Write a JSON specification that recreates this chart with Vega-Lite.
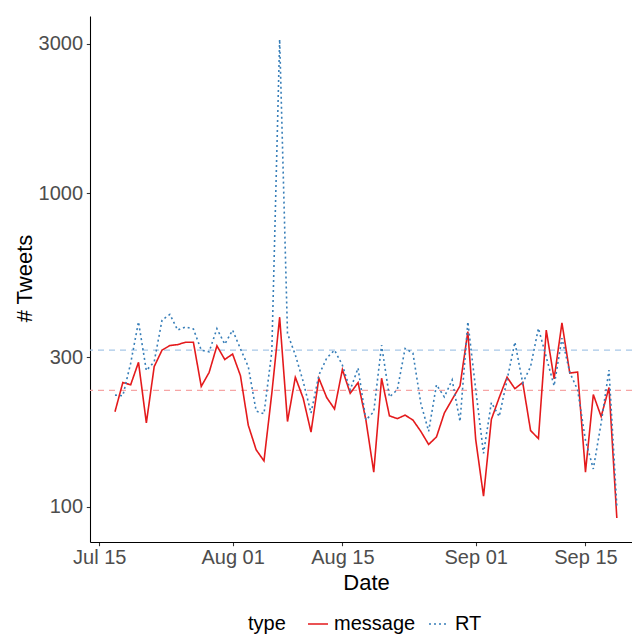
{
  "$schema": "https://vega.github.io/schema/vega-lite/v6.json",
  "autosize": {"type": "none"},
  "width": 542,
  "height": 526,
  "padding": {"left": 90, "top": 16, "right": 0, "bottom": 92},
  "background": "white",
  "config": {
    "font": "Liberation Sans",
    "view": {"stroke": null},
    "axis": {
      "grid": false,
      "domainColor": "#000000",
      "domainWidth": 1.07,
      "tickColor": "#333333",
      "tickWidth": 1.07,
      "tickSize": 3.7,
      "labelFontSize": 20,
      "labelColor": "#4D4D4D",
      "labelFont": "Liberation Sans",
      "titleFont": "Liberation Sans",
      "titleFontSize": 22,
      "titleFontWeight": "normal",
      "titleColor": "#000000"
    },
    "legend": {
      "orient": "none",
      "legendX": 158,
      "legendY": 597,
      "direction": "horizontal",
      "titleOrient": "left",
      "titleFont": "Liberation Sans",
      "labelFont": "Liberation Sans",
      "titleFontSize": 20,
      "titleFontWeight": "normal",
      "titleColor": "#000000",
      "labelFontSize": 20,
      "labelColor": "#000000",
      "symbolType": "stroke",
      "symbolSize": 400,
      "symbolStrokeWidth": 1.6,
      "labelOffset": 5,
      "columnPadding": 9,
      "titlePadding": 21,
      "padding": 0
    }
  },
  "datasets": {
    "means": [
      {"type": "message", "mean": 235},
      {"type": "RT", "mean": 316}
    ],
    "tweets": [
      {"date": "2014-07-17", "type": "message", "tweets": 201},
      {"date": "2014-07-18", "type": "message", "tweets": 249},
      {"date": "2014-07-19", "type": "message", "tweets": 245},
      {"date": "2014-07-20", "type": "message", "tweets": 289},
      {"date": "2014-07-21", "type": "message", "tweets": 185},
      {"date": "2014-07-22", "type": "message", "tweets": 280},
      {"date": "2014-07-23", "type": "message", "tweets": 316},
      {"date": "2014-07-24", "type": "message", "tweets": 327},
      {"date": "2014-07-25", "type": "message", "tweets": 329},
      {"date": "2014-07-26", "type": "message", "tweets": 335},
      {"date": "2014-07-27", "type": "message", "tweets": 335},
      {"date": "2014-07-28", "type": "message", "tweets": 242},
      {"date": "2014-07-29", "type": "message", "tweets": 268},
      {"date": "2014-07-30", "type": "message", "tweets": 326},
      {"date": "2014-07-31", "type": "message", "tweets": 295},
      {"date": "2014-08-01", "type": "message", "tweets": 307},
      {"date": "2014-08-02", "type": "message", "tweets": 262},
      {"date": "2014-08-03", "type": "message", "tweets": 182},
      {"date": "2014-08-04", "type": "message", "tweets": 152},
      {"date": "2014-08-05", "type": "message", "tweets": 140},
      {"date": "2014-08-06", "type": "message", "tweets": 230},
      {"date": "2014-08-07", "type": "message", "tweets": 402},
      {"date": "2014-08-08", "type": "message", "tweets": 187},
      {"date": "2014-08-09", "type": "message", "tweets": 259},
      {"date": "2014-08-10", "type": "message", "tweets": 222},
      {"date": "2014-08-11", "type": "message", "tweets": 173},
      {"date": "2014-08-12", "type": "message", "tweets": 257},
      {"date": "2014-08-13", "type": "message", "tweets": 223},
      {"date": "2014-08-14", "type": "message", "tweets": 205},
      {"date": "2014-08-15", "type": "message", "tweets": 274},
      {"date": "2014-08-16", "type": "message", "tweets": 230},
      {"date": "2014-08-17", "type": "message", "tweets": 249},
      {"date": "2014-08-18", "type": "message", "tweets": 189},
      {"date": "2014-08-19", "type": "message", "tweets": 129},
      {"date": "2014-08-20", "type": "message", "tweets": 257},
      {"date": "2014-08-21", "type": "message", "tweets": 195},
      {"date": "2014-08-22", "type": "message", "tweets": 191},
      {"date": "2014-08-23", "type": "message", "tweets": 196},
      {"date": "2014-08-24", "type": "message", "tweets": 189},
      {"date": "2014-08-25", "type": "message", "tweets": 174},
      {"date": "2014-08-26", "type": "message", "tweets": 158},
      {"date": "2014-08-27", "type": "message", "tweets": 167},
      {"date": "2014-08-28", "type": "message", "tweets": 199},
      {"date": "2014-08-29", "type": "message", "tweets": 220},
      {"date": "2014-08-30", "type": "message", "tweets": 243},
      {"date": "2014-08-31", "type": "message", "tweets": 362},
      {"date": "2014-09-01", "type": "message", "tweets": 164},
      {"date": "2014-09-02", "type": "message", "tweets": 108},
      {"date": "2014-09-03", "type": "message", "tweets": 190},
      {"date": "2014-09-04", "type": "message", "tweets": 223},
      {"date": "2014-09-05", "type": "message", "tweets": 259},
      {"date": "2014-09-06", "type": "message", "tweets": 238},
      {"date": "2014-09-07", "type": "message", "tweets": 249},
      {"date": "2014-09-08", "type": "message", "tweets": 175},
      {"date": "2014-09-09", "type": "message", "tweets": 165},
      {"date": "2014-09-10", "type": "message", "tweets": 366},
      {"date": "2014-09-11", "type": "message", "tweets": 256},
      {"date": "2014-09-12", "type": "message", "tweets": 386},
      {"date": "2014-09-13", "type": "message", "tweets": 267},
      {"date": "2014-09-14", "type": "message", "tweets": 269},
      {"date": "2014-09-15", "type": "message", "tweets": 129},
      {"date": "2014-09-16", "type": "message", "tweets": 228},
      {"date": "2014-09-17", "type": "message", "tweets": 194},
      {"date": "2014-09-18", "type": "message", "tweets": 240},
      {"date": "2014-09-19", "type": "message", "tweets": 92},
      {"date": "2014-07-17", "type": "RT", "tweets": 227},
      {"date": "2014-07-18", "type": "RT", "tweets": 226},
      {"date": "2014-07-19", "type": "RT", "tweets": 287},
      {"date": "2014-07-20", "type": "RT", "tweets": 389},
      {"date": "2014-07-21", "type": "RT", "tweets": 272},
      {"date": "2014-07-22", "type": "RT", "tweets": 290},
      {"date": "2014-07-23", "type": "RT", "tweets": 394},
      {"date": "2014-07-24", "type": "RT", "tweets": 411},
      {"date": "2014-07-25", "type": "RT", "tweets": 366},
      {"date": "2014-07-26", "type": "RT", "tweets": 375},
      {"date": "2014-07-27", "type": "RT", "tweets": 369},
      {"date": "2014-07-28", "type": "RT", "tweets": 316},
      {"date": "2014-07-29", "type": "RT", "tweets": 312},
      {"date": "2014-07-30", "type": "RT", "tweets": 370},
      {"date": "2014-07-31", "type": "RT", "tweets": 330},
      {"date": "2014-08-01", "type": "RT", "tweets": 366},
      {"date": "2014-08-02", "type": "RT", "tweets": 319},
      {"date": "2014-08-03", "type": "RT", "tweets": 280},
      {"date": "2014-08-04", "type": "RT", "tweets": 202},
      {"date": "2014-08-05", "type": "RT", "tweets": 198},
      {"date": "2014-08-06", "type": "RT", "tweets": 312},
      {"date": "2014-08-07", "type": "RT", "tweets": 3100},
      {"date": "2014-08-08", "type": "RT", "tweets": 357},
      {"date": "2014-08-09", "type": "RT", "tweets": 305},
      {"date": "2014-08-10", "type": "RT", "tweets": 251},
      {"date": "2014-08-11", "type": "RT", "tweets": 199},
      {"date": "2014-08-12", "type": "RT", "tweets": 263},
      {"date": "2014-08-13", "type": "RT", "tweets": 298},
      {"date": "2014-08-14", "type": "RT", "tweets": 316},
      {"date": "2014-08-15", "type": "RT", "tweets": 283},
      {"date": "2014-08-16", "type": "RT", "tweets": 236},
      {"date": "2014-08-17", "type": "RT", "tweets": 277},
      {"date": "2014-08-18", "type": "RT", "tweets": 189},
      {"date": "2014-08-19", "type": "RT", "tweets": 201},
      {"date": "2014-08-20", "type": "RT", "tweets": 328},
      {"date": "2014-08-21", "type": "RT", "tweets": 224},
      {"date": "2014-08-22", "type": "RT", "tweets": 236},
      {"date": "2014-08-23", "type": "RT", "tweets": 320},
      {"date": "2014-08-24", "type": "RT", "tweets": 309},
      {"date": "2014-08-25", "type": "RT", "tweets": 214},
      {"date": "2014-08-26", "type": "RT", "tweets": 174},
      {"date": "2014-08-27", "type": "RT", "tweets": 245},
      {"date": "2014-08-28", "type": "RT", "tweets": 224},
      {"date": "2014-08-29", "type": "RT", "tweets": 254},
      {"date": "2014-08-30", "type": "RT", "tweets": 187},
      {"date": "2014-08-31", "type": "RT", "tweets": 389},
      {"date": "2014-09-01", "type": "RT", "tweets": 237},
      {"date": "2014-09-02", "type": "RT", "tweets": 148},
      {"date": "2014-09-03", "type": "RT", "tweets": 215},
      {"date": "2014-09-04", "type": "RT", "tweets": 194},
      {"date": "2014-09-05", "type": "RT", "tweets": 254},
      {"date": "2014-09-06", "type": "RT", "tweets": 335},
      {"date": "2014-09-07", "type": "RT", "tweets": 248},
      {"date": "2014-09-08", "type": "RT", "tweets": 280},
      {"date": "2014-09-09", "type": "RT", "tweets": 371},
      {"date": "2014-09-10", "type": "RT", "tweets": 300},
      {"date": "2014-09-11", "type": "RT", "tweets": 243},
      {"date": "2014-09-12", "type": "RT", "tweets": 345},
      {"date": "2014-09-13", "type": "RT", "tweets": 268},
      {"date": "2014-09-14", "type": "RT", "tweets": 236},
      {"date": "2014-09-15", "type": "RT", "tweets": 163},
      {"date": "2014-09-16", "type": "RT", "tweets": 132},
      {"date": "2014-09-17", "type": "RT", "tweets": 185},
      {"date": "2014-09-18", "type": "RT", "tweets": 273},
      {"date": "2014-09-19", "type": "RT", "tweets": 100}
    ]
  },
  "layer": [
    {
      "data": {"name": "means"},
      "transform": [{"filter": "datum.type === 'message'"}],
      "mark": {"type": "rule", "color": "#F6A5A5", "strokeDash": [6, 5], "strokeWidth": 1.2},
      "encoding": {
        "y": {"field": "mean", "type": "quantitative", "title": "# Tweets", "scale": {"type": "log", "domain": [77.17, 3680], "nice": false}}
      }
    },
    {
      "data": {"name": "means"},
      "transform": [{"filter": "datum.type === 'RT'"}],
      "mark": {"type": "rule", "color": "#A8C8E8", "strokeDash": [6, 5], "strokeWidth": 1.2},
      "encoding": {
        "y": {"field": "mean", "type": "quantitative", "title": "# Tweets", "scale": {"type": "log", "domain": [77.17, 3680], "nice": false}}
      }
    },
    {
      "data": {"name": "tweets"},
      "mark": {"type": "line", "strokeWidth": 1.6},
      "encoding": {
        "x": {
          "field": "date",
          "type": "temporal",
          "scale": {"type": "utc", "domain": [1405279929600, 1411251897600], "nice": false},
          "axis": {
            "values": [1405382400000, 1406851200000, 1408060800000, 1409529600000, 1410739200000],
            "labelExpr": "utcFormat(datum.value, '%b %d')",
            "title": "Date",
            "titleX": 276,
            "titleY": 47.3,
            "titleBaseline": "alphabetic",
            "titleAlign": "center",
            "labelPadding": 2
          }
        },
        "y": {
          "field": "tweets",
          "type": "quantitative",
          "title": "# Tweets",
          "scale": {"type": "log", "domain": [77.17, 3680], "nice": false},
          "axis": {
            "values": [100, 300, 1000, 3000],
            "format": "d",
            "titleX": -59,
            "titleY": 262,
            "titleAngle": -90,
            "titleBaseline": "alphabetic",
            "titleAlign": "center",
            "labelPadding": 3.7
          }
        },
        "color": {
          "field": "type",
          "type": "nominal",
          "title": "type",
          "scale": {"domain": ["message", "RT"], "range": ["#E41A1C", "#377EB8"]}
        },
        "strokeDash": {
          "field": "type",
          "type": "nominal",
          "title": "type",
          "scale": {"domain": ["message", "RT"], "range": [[1, 0], [2, 3]]}
        }
      }
    }
  ]
}
